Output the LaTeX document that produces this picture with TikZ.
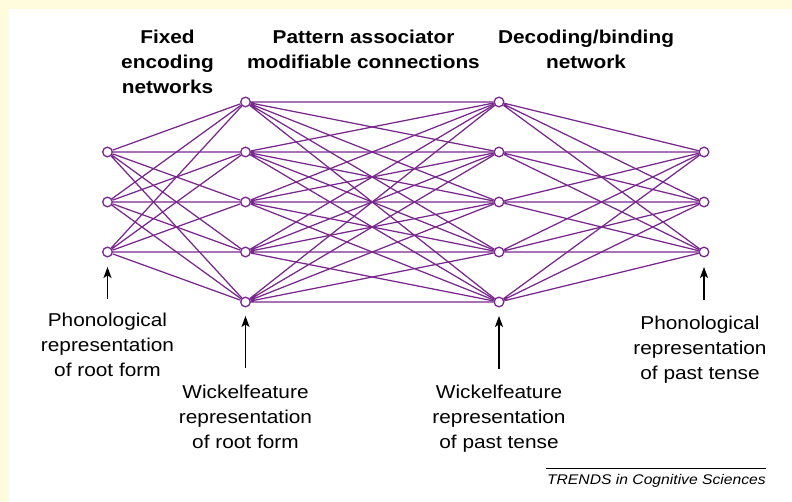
\documentclass[tikz,border=0pt]{standalone}
\usepackage{fontspec}
\setmainfont{Liberation Sans}[FakeStretch=1.12]
\usetikzlibrary{arrows.meta}

\definecolor{netpurple}{RGB}{120,40,140}
\definecolor{panelyellow}{RGB}{255,251,220}

\tikzset{
 unit/.style={circle,draw=netpurple,fill=white,line width=1.3pt,inner sep=0pt,minimum size=9.6pt},
 link/.style={netpurple,line width=1.25pt},
 pointer/.style={-{Stealth[length=11pt,width=8pt,inset=2.5pt]},line width=1.5pt},
 caption/.style={align=center,inner sep=0pt,font=\fontsize{18.6}{25}\selectfont},
 heading/.style={align=center,inner sep=0pt,font=\fontsize{18.6}{25}\selectfont\bfseries}
}

\begin{document}
\begin{tikzpicture}[x=1pt,y=-1pt]
 \useasboundingbox (0,0) rectangle (792,502);
 \fill[panelyellow] (0,0) rectangle (792,502);
 \fill[white] (9,9) rectangle (792,502);
 % units
 \node[unit] (in1) at (107.5,152) {};
 \node[unit] (in2) at (107.5,202) {};
 \node[unit] (in3) at (107.5,252) {};
 \node[unit] (wr1) at (245.5,102) {};
 \node[unit] (wr2) at (245.5,152) {};
 \node[unit] (wr3) at (245.5,202) {};
 \node[unit] (wr4) at (245.5,252) {};
 \node[unit] (wr5) at (245.5,302) {};
 \node[unit] (wp1) at (499,102) {};
 \node[unit] (wp2) at (499,152) {};
 \node[unit] (wp3) at (499,202) {};
 \node[unit] (wp4) at (499,252) {};
 \node[unit] (wp5) at (499,302) {};
 \node[unit] (out1) at (704,152) {};
 \node[unit] (out2) at (704,202) {};
 \node[unit] (out3) at (704,252) {};
 % links
 \draw[link] (in1) -- (wr1) (in1) -- (wr2) (in1) -- (wr3) (in1) -- (wr4) (in1) -- (wr5);
 \draw[link] (in2) -- (wr1) (in2) -- (wr2) (in2) -- (wr3) (in2) -- (wr4) (in2) -- (wr5);
 \draw[link] (in3) -- (wr1) (in3) -- (wr2) (in3) -- (wr3) (in3) -- (wr4) (in3) -- (wr5);
 \draw[link] (wr1) -- (wp1) (wr1) -- (wp2) (wr1) -- (wp3) (wr1) -- (wp4) (wr1) -- (wp5);
 \draw[link] (wr2) -- (wp1) (wr2) -- (wp2) (wr2) -- (wp3) (wr2) -- (wp4) (wr2) -- (wp5);
 \draw[link] (wr3) -- (wp1) (wr3) -- (wp2) (wr3) -- (wp3) (wr3) -- (wp4) (wr3) -- (wp5);
 \draw[link] (wr4) -- (wp1) (wr4) -- (wp2) (wr4) -- (wp3) (wr4) -- (wp4) (wr4) -- (wp5);
 \draw[link] (wr5) -- (wp1) (wr5) -- (wp2) (wr5) -- (wp3) (wr5) -- (wp4) (wr5) -- (wp5);
 \draw[link] (wp1) -- (out1) (wp1) -- (out2) (wp1) -- (out3);
 \draw[link] (wp2) -- (out1) (wp2) -- (out2) (wp2) -- (out3);
 \draw[link] (wp3) -- (out1) (wp3) -- (out2) (wp3) -- (out3);
 \draw[link] (wp4) -- (out1) (wp4) -- (out2) (wp4) -- (out3);
 \draw[link] (wp5) -- (out1) (wp5) -- (out2) (wp5) -- (out3);
 % headings (base = last line)
 \node[heading,anchor=base] (fixed) at (167.5,94) {Fixed\\encoding\\networks};
 \node[heading,anchor=base] (assoc) at (363.5,69) {Pattern associator\\modifiable connections};
 \node[heading,anchor=base] (decode) at (586,69) {Decoding/binding\\network};
 % captions and pointers
 \node[caption,anchor=base] (phonroot) at (107.5,376) {Phonological\\representation\\of root form};
 \node[caption,anchor=base] (wickroot) at (245.5,448) {Wickelfeature\\representation\\of root form};
 \node[caption,anchor=base] (wickpast) at (499,448) {Wickelfeature\\representation\\of past tense};
 \node[caption,anchor=base] (phonpast) at (700,379) {Phonological\\representation\\of past tense};
 \coordinate (p1) at (107.5,299);
 \coordinate (p2) at (245.5,368);
 \coordinate (p3) at (499,369);
 \coordinate (p4) at (704,300);
 \draw[pointer,shorten >=9.5pt] (p1) -- (in3);
 \draw[pointer,shorten >=8.5pt] (p2) -- (wr5);
 \draw[pointer,shorten >=8.5pt] (p3) -- (wp5);
 \draw[pointer,shorten >=9.5pt] (p4) -- (out3);
 % source line
 \node[anchor=base east,inner sep=0pt,font=\fontsize{14}{16}\selectfont\itshape] (trends) at (766,484) {TRENDS in Cognitive Sciences};
 \draw[line width=0.8pt] (546,468) -- (766,468);
\end{tikzpicture}
\end{document}
